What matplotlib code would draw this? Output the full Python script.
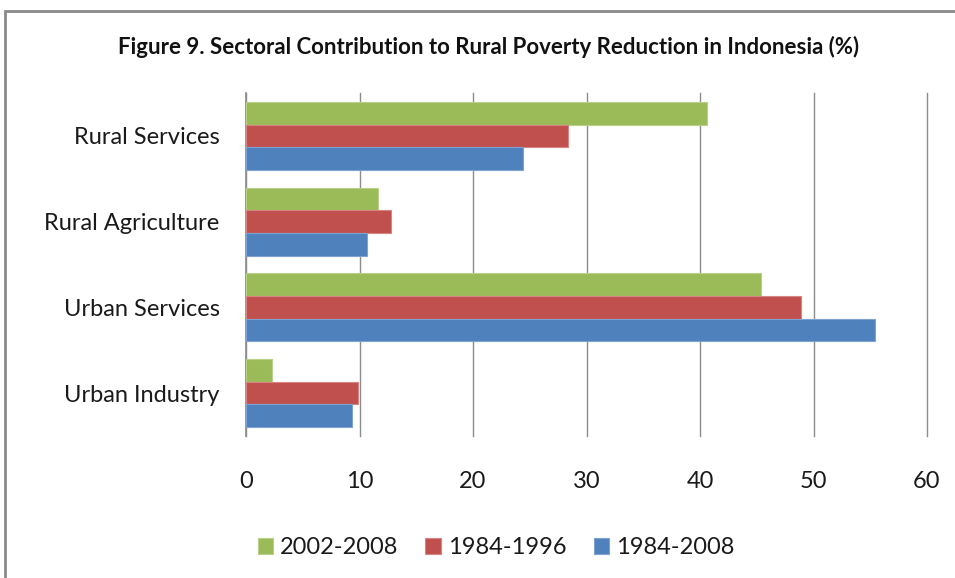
import numpy as np
import matplotlib
matplotlib.use("Agg")
import matplotlib.pyplot as plt
from matplotlib.patches import Rectangle, Patch

# sector contribution (%) per period
categories = ["Urban Industry", "Urban Services", "Rural Agriculture", "Rural Services"]
series_names = ["2002-2008", "1984-1996", "1984-2008"]
vals_2002_2008 = [2.3, 45.4, 11.6, 40.6]
vals_1984_1996 = [9.9, 48.9, 12.8, 28.4]
vals_1984_2008 = [9.3, 55.4, 10.7, 24.4]
xticks = [0, 10, 20, 30, 40, 50, 60]

colors = ["#9BBB59", "#C0504D", "#4F81BD"]
edges = ["#B9D08A", "#D68582", "#7FA3D0"]

plt.rcParams["font.family"] = ["Lato", "DejaVu Sans"]

fig = plt.figure(figsize=(9.55, 5.78), dpi=100)
ax = fig.add_axes([246 / 955, 1 - 436 / 578, (927 - 246) / 955, (436 - 93) / 578])

y = np.arange(len(categories))
h = 0.265
for k, (vals, c, ec) in enumerate(zip([vals_2002_2008, vals_1984_1996, vals_1984_2008],
                                      colors, edges)):
    ax.barh(y + (1 - k) * h, vals, height=h, color=c, edgecolor=ec,
            linewidth=0.8, zorder=3)

ax.set_xlim(0, 60)
ax.set_ylim(-0.5, 3.5)
ax.set_xticks(xticks)
ax.set_yticks(y)
ax.set_yticklabels(categories)
ax.tick_params(axis="y", length=0, pad=19, labelsize=17, labelcolor="#1a1a1a")
ax.tick_params(axis="x", length=0, pad=25, labelsize=17, labelcolor="#1a1a1a")
ax.grid(axis="x", color="#8c8c8c", linewidth=1.0, zorder=0)
for gl in ax.get_xgridlines():
    gl.set_clip_on(False)
for s in ["top", "right", "bottom"]:
    ax.spines[s].set_visible(False)
ax.spines["left"].set_color("#8c8c8c")
ax.spines["left"].set_linewidth(1.2)

fig.text(489 / 955, 1 - 47 / 578,
         "Figure 9. Sectoral Contribution to Rural Poverty Reduction in Indonesia (%)",
         ha="center", va="center", fontsize=16, fontweight="bold", color="#111111")

handles = [Patch(facecolor=c, edgecolor=ec, linewidth=0.8) for c, ec in zip(colors, edges)]
fig.legend(handles, series_names, loc="center", bbox_to_anchor=(496 / 955, 1 - 548 / 578),
           ncol=3, frameon=False, fontsize=17, handlelength=0.65, handleheight=0.65,
           handletextpad=0.3, columnspacing=1.15, labelcolor="#1a1a1a")

# outer chart frame
fig.patches.append(Rectangle((5 / 955, -0.05), 1.0, (578 - 11) / 578 + 0.05,
                             transform=fig.transFigure, fill=False,
                             edgecolor="#8a8a8a", linewidth=2.0))

fig.savefig("out.png", dpi=100)
